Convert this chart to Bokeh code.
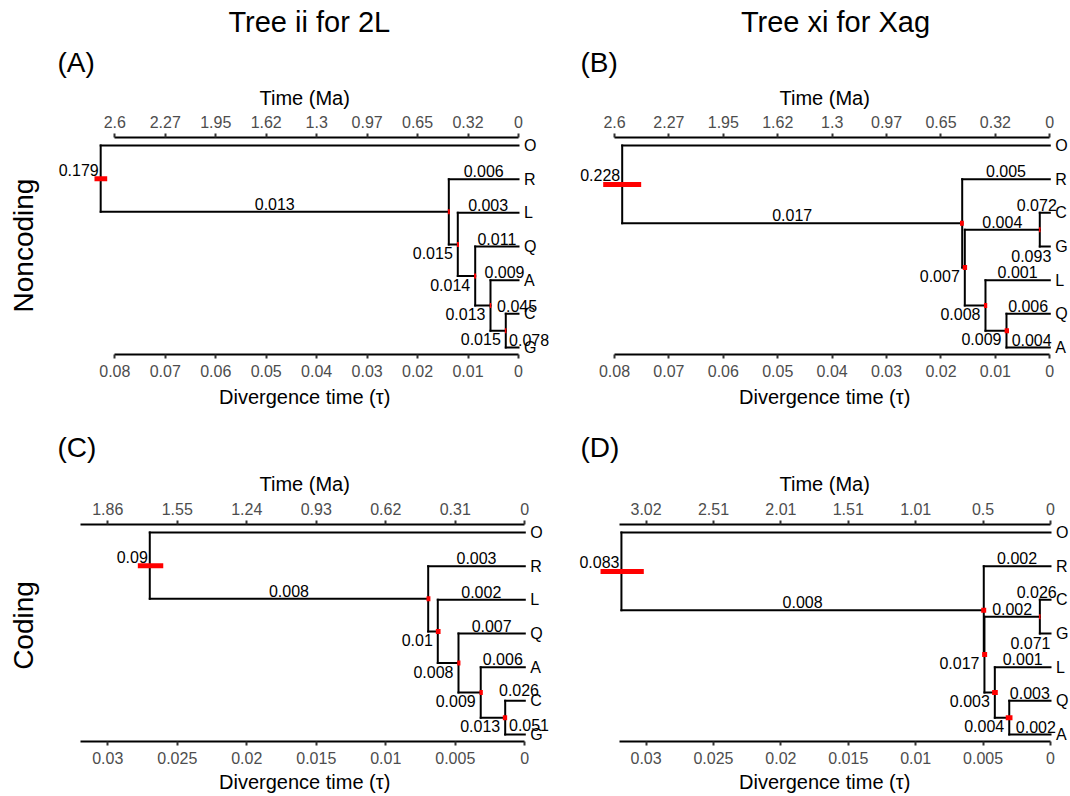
import math
from bokeh.plotting import figure
from bokeh.models import LinearAxis, FixedTicker, Range1d, ColumnDataSource
from bokeh.layouts import row, column
from bokeh.core.properties import value
from bokeh.embed import file_html
from bokeh.resources import INLINE

FONT = "Liberation Sans"

# ---------------- data ----------------
# Panel A: Tree ii for 2L, noncoding
A_tips = ["O", "R", "L", "Q", "A", "C", "G"]
A_nodes = ["root", "n1", "n2", "n3", "n4", "n5"]
A_ages = [0.0828, 0.01381, 0.01203, 0.00858, 0.00555, 0.00252]
A_hpd_lo = [0.08151, 0.0136, 0.0118, 0.0084, 0.0054, 0.0024]
A_hpd_hi = [0.08403, 0.0140, 0.0122, 0.0088, 0.0057, 0.0027]
A_parent = ["root", "root", "n1", "n1", "n2", "n2", "n3", "n3", "n4", "n4", "n5", "n5"]
A_child = ["O", "n1", "R", "n2", "L", "n3", "Q", "n4", "A", "n5", "C", "G"]
A_theta = ["", "0.013", "0.006", "0.015", "0.003", "0.014", "0.011", "0.013", "0.009", "0.015", "0.045", "0.078"]
A_root_theta = "0.179"
A_tau_labels = ["0.08", "0.07", "0.06", "0.05", "0.04", "0.03", "0.02", "0.01", "0"]
A_ma_labels = ["2.6", "2.27", "1.95", "1.62", "1.3", "0.97", "0.65", "0.32", "0"]

# Panel B: Tree xi for Xag, noncoding
B_tips = ["O", "R", "C", "G", "L", "Q", "A"]
B_nodes = ["root", "n1", "n2", "n3", "n4", "n5"]
B_ages = [0.07859, 0.01610, 0.01562, 0.00184, 0.01182, 0.00796]
B_hpd_lo = [0.07510, 0.0158, 0.0152, 0.0017, 0.0115, 0.0075]
B_hpd_hi = [0.08208, 0.0165, 0.0160, 0.0020, 0.0121, 0.0083]
B_parent = ["root", "root", "n1", "n1", "n2", "n3", "n3", "n2", "n4", "n4", "n5", "n5"]
B_child = ["O", "n1", "R", "n2", "n3", "C", "G", "n4", "L", "n5", "Q", "A"]
B_theta = ["", "0.017", "0.005", "0.007", "0.004", "0.072", "0.093", "0.008", "0.001", "0.009", "0.006", "0.004"]
B_root_theta = "0.228"
B_tau_labels = ["0.08", "0.07", "0.06", "0.05", "0.04", "0.03", "0.02", "0.01", "0"]
B_ma_labels = ["2.6", "2.27", "1.95", "1.62", "1.3", "0.97", "0.65", "0.32", "0"]

# Panel C: Tree ii for 2L, coding
C_tips = ["O", "R", "L", "Q", "A", "C", "G"]
C_nodes = ["root", "n1", "n2", "n3", "n4", "n5"]
C_ages = [0.02698, 0.00695, 0.00626, 0.00477, 0.00317, 0.00141]
C_hpd_lo = [0.02601, 0.00679, 0.00606, 0.00463, 0.00302, 0.00127]
C_hpd_hi = [0.02784, 0.00707, 0.00640, 0.00486, 0.00326, 0.00158]
C_parent = ["root", "root", "n1", "n1", "n2", "n2", "n3", "n3", "n4", "n4", "n5", "n5"]
C_child = ["O", "n1", "R", "n2", "L", "n3", "Q", "n4", "A", "n5", "C", "G"]
C_theta = ["", "0.008", "0.003", "0.01", "0.002", "0.008", "0.007", "0.009", "0.006", "0.013", "0.026", "0.051"]
C_root_theta = "0.09"
C_tau_labels = ["0.03", "0.025", "0.02", "0.015", "0.01", "0.005", "0"]
C_ma_labels = ["1.86", "1.55", "1.24", "0.93", "0.62", "0.31", "0"]

# Panel D: Tree xi for Xag, coding
D_tips = ["O", "R", "C", "G", "L", "Q", "A"]
D_nodes = ["root", "n1", "n2", "n3", "n4", "n5"]
D_ages = [0.03183, 0.00495, 0.00490, 0.00079, 0.00413, 0.00306]
D_hpd_lo = [0.03017, 0.00477, 0.00470, 0.00074, 0.00391, 0.00282]
D_hpd_hi = [0.03338, 0.00514, 0.00507, 0.00085, 0.00433, 0.00332]
D_parent = ["root", "root", "n1", "n1", "n2", "n3", "n3", "n2", "n4", "n4", "n5", "n5"]
D_child = ["O", "n1", "R", "n2", "n3", "C", "G", "n4", "L", "n5", "Q", "A"]
D_theta = ["", "0.008", "0.002", "0.017", "0.002", "0.026", "0.071", "0.003", "0.001", "0.004", "0.003", "0.002"]
D_root_theta = "0.083"
D_tau_labels = ["0.03", "0.025", "0.02", "0.015", "0.01", "0.005", "0"]
D_ma_labels = ["3.02", "2.51", "2.01", "1.51", "1.01", "0.5", "0"]

# ---------------- layout / style ----------------
STRIP1_H, PANEL_H, STRIP2_H, STRIP3_H = 109, 273, 114, 27
BORDER_T, FRAME_H, BORDER_B = 28, 217, 28
LEFT_W, RIGHT_W = 568, 502
ROW1_TOP = STRIP1_H
ROW2_TOP = STRIP1_H + PANEL_H + STRIP2_H

# (fig_left_page, fig_top_page, width, zero_px_page, px_per_unit, axis_bound)
GEO = {
    "A": (0, ROW1_TOP, LEFT_W, 518.0, 5046.0, 0.08),
    "B": (LEFT_W, ROW1_TOP, RIGHT_W, 1049.3, 5441.0, 0.08),
    "C": (0, ROW2_TOP, LEFT_W, 524.3, 13900.0, 0.032),
    "D": (LEFT_W, ROW2_TOP, RIGHT_W, 1050.0, 13480.0, 0.03195),
}
# label nudges (dx px, dy px) for repelled tip labels
NUDGE = {
    "A": {"C": (5, 0), "G": (17, 0)},
    "B": {"C": (-8, 0), "G": (-13.5, 17), "A": (3.5, 0)},
    "C": {"C": (4, -3), "G": (14, -2)},
    "D": {"C": (-8.5, 0), "G": (-14.7, 17), "A": (6, 0)},
}
# row labels inside panel frames: (text, page_x_center, page_y_center)
ROWLAB = {"A": ("Noncoding", 23.3, 245), "C": ("Coding", 23.3, 625)}

TIP_SPACING_PX = 33.67


def style_axis(ax):
    ax.axis_line_width = 2
    ax.axis_line_color = "black"
    ax.major_tick_line_width = 2
    ax.major_tick_line_color = "#333333"
    ax.major_tick_out = 4
    ax.major_tick_in = 0
    ax.minor_tick_out = 0
    ax.minor_tick_in = 0
    ax.major_label_text_font = FONT
    ax.major_label_text_font_size = "16px"
    ax.major_label_text_color = "#4d4d4d"
    ax.major_label_standoff = 6


def build(key, tips, nodes, ages, lo, hi, parents, children, thetas, root_theta, tau_labels, ma_labels):
    fl, ft, W, zero, k, bound = GEO[key]
    frame_left = fl
    frame_right = fl + W
    frame_top = ft + BORDER_T
    x0 = (zero - frame_left) / k
    x1 = -(frame_right - zero) / k
    y_top = 7 + 8 / TIP_SPACING_PX
    y_bot = 7 - (FRAME_H - 8) / TIP_SPACING_PX

    p = figure(width=W, height=PANEL_H, x_range=Range1d(x0, x1), y_range=Range1d(y_bot, y_top),
               x_axis_location=None, y_axis_location=None, toolbar_location=None, title=None,
               output_backend="svg", min_border_left=0, min_border_right=0,
               min_border_top=BORDER_T, min_border_bottom=BORDER_B)
    p.outline_line_color = None
    p.grid.visible = False
    p.background_fill_color = "white"
    p.border_fill_color = "white"

    def px2x(px):
        return x0 + (px - frame_left) / (frame_right - frame_left) * (x1 - x0)

    def py2y(py):
        return y_top - (py - frame_top) / FRAME_H * (y_top - y_bot)

    # tree geometry
    xpos = {t: 0.0 for t in tips}
    xpos.update(dict(zip(nodes, ages)))
    kids = {n: [] for n in nodes}
    for par, ch in zip(parents, children):
        kids[par].append(ch)
    ypos = {t: 7 - i for i, t in enumerate(tips)}

    def gy(n):
        if n not in ypos:
            ypos[n] = sum(gy(c) for c in kids[n]) / len(kids[n])
        return ypos[n]

    root = nodes[0]
    gy(root)
    root_age = ages[0]

    sx0, sy0, sx1, sy1 = [], [], [], []
    for par, ch in zip(parents, children):
        sx0.append(xpos[par]); sy0.append(ypos[ch]); sx1.append(xpos[ch]); sy1.append(ypos[ch])
    for n in nodes:
        cy = [ypos[c] for c in kids[n]]
        sx0.append(xpos[n]); sy0.append(min(cy)); sx1.append(xpos[n]); sy1.append(max(cy))
    p.segment(x0=sx0, y0=sy0, x1=sx1, y1=sy1, line_width=2, line_color="black", line_cap="square")

    # HPD bars
    p.segment(x0=lo, y0=[ypos[n] for n in nodes], x1=hi, y1=[ypos[n] for n in nodes],
              line_width=5, line_color="#ff0000", line_cap="butt")

    # theta labels
    cen = dict(x=[], y=[], text=[], dx=[], dy=[])
    rgt = dict(x=[], y=[], text=[], dx=[], dy=[])
    nud = NUDGE[key]
    for par, ch, th in zip(parents, children, thetas):
        if th == "":
            continue
        mid = (xpos[par] + xpos[ch]) / 2
        if ch in tips:
            dx, dy = nud.get(ch, (0, 0))
            cen["x"].append(mid); cen["y"].append(ypos[ch]); cen["text"].append(th)
            cen["dx"].append(dx); cen["dy"].append(-8 + dy)
        elif par == root or (xpos[par] - xpos[ch]) / root_age > 0.1:
            cen["x"].append(mid); cen["y"].append(ypos[ch]); cen["text"].append(th)
            cen["dx"].append(0); cen["dy"].append(-8)
        else:
            rgt["x"].append(xpos[ch]); rgt["y"].append(ypos[ch]); rgt["text"].append(th)
            rgt["dx"].append(-5); rgt["dy"].append(8.8)
    rgt["x"].append(xpos[root]); rgt["y"].append(ypos[root]); rgt["text"].append(root_theta)
    rgt["dx"].append(-2); rgt["dy"].append(-9)

    common = dict(text_font=value(FONT), text_font_size=value("16px"), text_color="black",
                  text_baseline="middle")
    p.text(x="x", y="y", text="text", x_offset="dx", y_offset="dy", source=ColumnDataSource(cen),
           text_align="center", **common)
    p.text(x="x", y="y", text="text", x_offset="dx", y_offset="dy", source=ColumnDataSource(rgt),
           text_align="right", **common)
    # tip names
    p.text(x=[0.0] * len(tips), y=[ypos[t] for t in tips], text=tips, x_offset=5.5, y_offset=0,
           text_align="left", **common)

    # row label (rotated) inside the frame
    if key in ROWLAB:
        t, px, py = ROWLAB[key]
        p.text(x=[px2x(px)], y=[py2y(py)], text=[t], angle=math.pi / 2, text_align="center",
               text_baseline="middle", text_font=value(FONT), text_font_size=value("28px"),
               text_color="black")

    # axes
    ticks = [float(s) for s in tau_labels]
    bottom = LinearAxis(ticker=FixedTicker(ticks=ticks),
                        major_label_overrides={t: s for t, s in zip(ticks, tau_labels)},
                        bounds=(0, bound))
    style_axis(bottom)
    p.add_layout(bottom, "below")
    top = LinearAxis(ticker=FixedTicker(ticks=ticks),
                     major_label_overrides={t: s for t, s in zip(ticks, ma_labels)},
                     bounds=(0, bound))
    style_axis(top)
    p.add_layout(top, "above")
    return p


def strip(h, top_page, items):
    s = figure(width=LEFT_W + RIGHT_W, height=h, x_range=Range1d(0, LEFT_W + RIGHT_W),
               y_range=Range1d(h, 0), x_axis_location=None, y_axis_location=None,
               toolbar_location=None, title=None, output_backend="svg", min_border=0)
    s.outline_line_color = None
    s.grid.visible = False
    for text, px, py, size, align in items:
        s.text(x=[px], y=[py - top_page], text=[text], text_align=align, text_baseline="middle",
               text_font=value(FONT), text_font_size=value(size), text_color="black")
    return s


# text items: (text, page_x, page_y_center, size, align)
S1 = [("Tree ii for 2L", 308.8, 21.7, "29px", "center"),
      ("Tree xi for Xag", 835, 21.7, "29px", "center"),
      ("(A)", 57, 62, "28px", "left"),
      ("(B)", 580, 62, "28px", "left"),
      ("Time (Ma)", 304.2, 97.3, "20px", "center"),
      ("Time (Ma)", 824.2, 97.3, "20px", "center")]
S2 = [("Divergence time (\u03c4)", 304.2, 396, "20px", "center"),
      ("Divergence time (\u03c4)", 824.2, 396, "20px", "center"),
      ("(C)", 57, 447, "28px", "left"),
      ("(D)", 580, 447, "28px", "left"),
      ("Time (Ma)", 304.2, 483.5, "20px", "center"),
      ("Time (Ma)", 824.2, 483.5, "20px", "center")]
S3 = [("Divergence time (\u03c4)", 304.2, 781.7, "20px", "center"),
      ("Divergence time (\u03c4)", 824.2, 781.7, "20px", "center")]

pA = build("A", A_tips, A_nodes, A_ages, A_hpd_lo, A_hpd_hi, A_parent, A_child, A_theta, A_root_theta,
           A_tau_labels, A_ma_labels)
pB = build("B", B_tips, B_nodes, B_ages, B_hpd_lo, B_hpd_hi, B_parent, B_child, B_theta, B_root_theta,
           B_tau_labels, B_ma_labels)
pC = build("C", C_tips, C_nodes, C_ages, C_hpd_lo, C_hpd_hi, C_parent, C_child, C_theta, C_root_theta,
           C_tau_labels, C_ma_labels)
pD = build("D", D_tips, D_nodes, D_ages, D_hpd_lo, D_hpd_hi, D_parent, D_child, D_theta, D_root_theta,
           D_tau_labels, D_ma_labels)

s1 = strip(STRIP1_H, 0, S1)
s2 = strip(STRIP2_H, STRIP1_H + PANEL_H, S2)
s3 = strip(STRIP3_H, ROW2_TOP + PANEL_H, S3)

layout = column(s1, row(pA, pB, spacing=0), s2, row(pC, pD, spacing=0), s3, spacing=0)
open("out.html", "w").write(file_html(layout, INLINE))
